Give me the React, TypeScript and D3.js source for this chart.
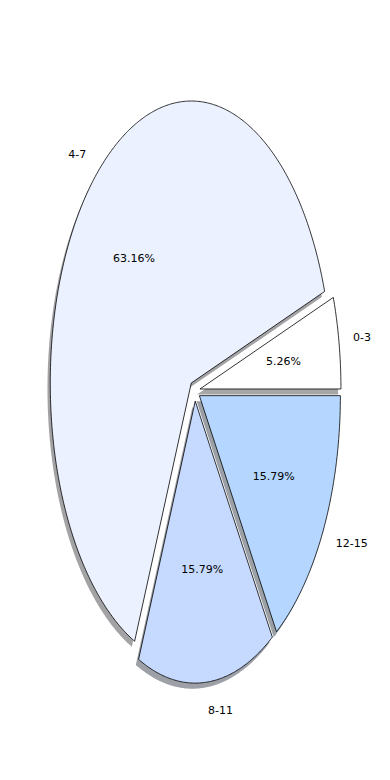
import React from 'react';
import * as d3 from 'd3';

const labels = ['0-3', '4-7', '8-11', '12-15'];
const values = [1, 12, 3, 3];
const colors = ['#ffffff', '#ebf1ff', '#c6d9ff', '#b5d7ff'];
const explode = [0.037, 0.037, 0.037, 0.037];

const W = 390;
const H = 780;
const CX = 194.8;
const CY = 390.7;
const RX = 141;
const RY = 282;

export default function App() {
  const x = d3.scaleLinear().domain([-1, 1]).range([CX - RX, CX + RX]);
  const y = d3.scaleLinear().domain([-1, 1]).range([CY + RY, CY - RY]);
  const total = d3.sum(values);
  const line = d3.line<[number, number]>().x(d => x(d[0])).y(d => y(d[1]));
  let cum = 0;
  const wedges = values.map((v, i) => {
    const t1 = (cum / total) * 2 * Math.PI;
    cum += v;
    const t2 = (cum / total) * 2 * Math.PI;
    const tm = (t1 + t2) / 2;
    const ox = explode[i] * Math.cos(tm);
    const oy = explode[i] * Math.sin(tm);
    const n = Math.max(8, Math.ceil((t2 - t1) / (Math.PI / 360)));
    const pts: [number, number][] = [[ox, oy]];
    for (let k = 0; k <= n; k++) {
      const t = t1 + ((t2 - t1) * k) / n;
      pts.push([ox + Math.cos(t), oy + Math.sin(t)]);
    }
    const d = line(pts) + 'Z';
    const c = d3.rgb(colors[i]);
    const shadow = d3.rgb(c.r * 0.3, c.g * 0.3, c.b * 0.3).formatHex();
    const cos = Math.cos(tm);
    const sin = Math.sin(tm);
    return {
      d,
      color: colors[i],
      shadow,
      label: labels[i],
      lx: x(ox + 1.1 * cos),
      ly: y(oy + 1.1 * sin),
      anchor: cos > 0 ? 'start' : 'end',
      px: x(ox + 0.6 * cos),
      py: y(oy + 0.6 * sin),
      pct: ((v / total) * 100).toFixed(2) + '%',
    };
  });

  return (
    <svg
      width={W}
      height={H}
      style={{ position: 'absolute', left: 0, top: 0, background: '#ffffff' }}
      fontFamily="'DejaVu Sans', sans-serif"
      fontSize={11}
    >
      <rect width={W} height={H} fill="#ffffff" />
      <g transform="translate(-2.8,5.6)">
        {wedges.map((w, i) => (
          <path key={'s' + i} d={w.d} fill={w.shadow} fillOpacity={0.5} stroke="none" />
        ))}
      </g>
      {wedges.map((w, i) => (
        <path key={'w' + i} d={w.d} fill={w.color} stroke="#000000" strokeWidth={0.8} strokeLinejoin="miter" />
      ))}
      {wedges.map((w, i) => (
        <text key={'l' + i} x={w.lx} y={w.ly} textAnchor={w.anchor} dominantBaseline="central" fill="#000">
          {w.label}
        </text>
      ))}
      {wedges.map((w, i) => (
        <text key={'p' + i} x={w.px} y={w.py} textAnchor="middle" dominantBaseline="central" fill="#000">
          {w.pct}
        </text>
      ))}
    </svg>
  );
}
